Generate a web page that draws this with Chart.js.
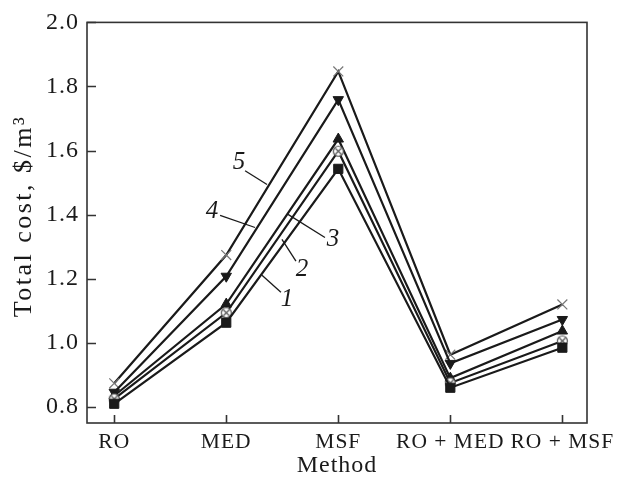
<!DOCTYPE html>
<html>
<head>
<meta charset="utf-8">
<script src="https://cdn.jsdelivr.net/npm/chart.js@4/dist/chart.umd.min.js"></script>
<style>
  html, body { margin: 0; padding: 0; background: #fff; }
</style>
</head>
<body>
<canvas id="chart" width="628" height="487"></canvas>
<script>
const methods = ['RO', 'MED', 'MSF', 'RO + MED', 'RO + MSF'];
const cost1 = [0.81, 1.063, 1.543, 0.86, 0.985];
const cost2 = [0.825, 1.094, 1.598, 0.875, 1.006];
const cost3 = [0.835, 1.121, 1.636, 0.89, 1.037];
const cost4 = [0.846, 1.208, 1.759, 0.936, 1.073];
const cost5 = [0.874, 1.274, 1.847, 0.963, 1.12];
const yTicks = [0.8, 1.0, 1.2, 1.4, 1.6, 1.8, 2.0];
const curveNames = ['1', '2', '3', '4', '5'];
// where each curve number sits and its leader line, in data units
const labelAt = [[1.542, 1.137], [1.676, 1.230], [1.952, 1.323], [0.873, 1.410], [1.114, 1.562]];
const leaderFrom = [[1.488, 1.158], [1.622, 1.255], [1.881, 1.329], [0.945, 1.398], [1.168, 1.537]];
const leaderTo = [[1.319, 1.211], [1.497, 1.323], [1.551, 1.401], [1.257, 1.360], [1.364, 1.494]];
const yTitle = 'Total cost, $/m³';

const serif = "'Liberation Serif', 'Times New Roman', serif";
const ink = '#1a1a1a';

function toPoints(values) {
  return values.map((v, i) => ({ x: i, y: v }));
}

// open circle with a small cross, used for curve 2
function circleCross() {
  const c = document.createElement('canvas');
  c.width = 13; c.height = 13;
  const g = c.getContext('2d');
  g.fillStyle = '#fff';
  g.strokeStyle = '#555';
  g.lineWidth = 1.2;
  g.beginPath(); g.arc(6.5, 6.5, 5, 0, Math.PI * 2); g.fill(); g.stroke();
  g.beginPath();
  g.moveTo(3.5, 3.5); g.lineTo(9.5, 9.5);
  g.moveTo(9.5, 3.5); g.lineTo(3.5, 9.5);
  g.stroke();
  return c;
}

function series(values, extra) {
  return Object.assign({
    data: toPoints(values),
    borderColor: ink,
    borderWidth: 2.2,
    pointBorderColor: ink,
    pointBackgroundColor: ink,
    pointRadius: 6,
    pointBorderWidth: 1,
    tension: 0,
    fill: false
  }, extra);
}

const frame = {
  id: 'frame',
  beforeDraw(chart) {
    // slightly loose tracking, like the printed figure
    chart.ctx.letterSpacing = '1px';
  },
  afterDraw(chart) {
    const { ctx, chartArea: a, scales: { x, y } } = chart;
    ctx.save();
    ctx.strokeStyle = '#333';
    ctx.lineWidth = 1.6;
    ctx.strokeRect(a.left, a.top, a.right - a.left, a.bottom - a.top);
    ctx.beginPath();
    yTicks.forEach((t) => {
      const py = Math.round(y.getPixelForValue(t)) + 0.5;
      ctx.moveTo(a.left, py); ctx.lineTo(a.left + 9, py);
    });
    methods.forEach((m, i) => {
      const px = Math.round(x.getPixelForValue(i)) + 0.5;
      ctx.moveTo(px, a.bottom); ctx.lineTo(px, a.bottom - 8);
    });
    ctx.stroke();

    ctx.strokeStyle = ink;
    ctx.lineWidth = 1.3;
    ctx.fillStyle = ink;
    ctx.letterSpacing = '0px';
    ctx.font = 'italic 25px ' + serif;
    ctx.textAlign = 'center';
    ctx.textBaseline = 'middle';
    curveNames.forEach((name, i) => {
      ctx.beginPath();
      ctx.moveTo(x.getPixelForValue(leaderFrom[i][0]), y.getPixelForValue(leaderFrom[i][1]));
      ctx.lineTo(x.getPixelForValue(leaderTo[i][0]), y.getPixelForValue(leaderTo[i][1]));
      ctx.stroke();
      ctx.fillText(name, x.getPixelForValue(labelAt[i][0]), y.getPixelForValue(labelAt[i][1]));
    });

    // y axis title
    ctx.font = '26px ' + serif;
    ctx.letterSpacing = '2.5px';
    ctx.translate(24, 217);
    ctx.rotate(-Math.PI / 2);
    ctx.fillText(yTitle, 1, 0);
    ctx.restore();
  }
};

new Chart(document.getElementById('chart'), {
  type: 'line',
  data: {
    datasets: [
      series(cost1, { pointStyle: 'rect', pointRadius: 6.5 }),
      series(cost2, { pointStyle: circleCross() }),
      series(cost3, { pointStyle: 'triangle', pointRadius: 6 }),
      series(cost4, { pointStyle: 'triangle', pointRotation: 180, pointRadius: 6 }),
      series(cost5, { pointStyle: 'crossRot', pointRadius: 7, pointBorderColor: '#777', pointBorderWidth: 1.2 })
    ]
  },
  options: {
    responsive: false,
    animation: false,
    devicePixelRatio: 1,
    layout: { padding: { top: 20, right: 41, left: 0, bottom: 0 } },
    plugins: { legend: { display: false }, tooltip: { enabled: false } },
    scales: {
      x: {
        type: 'linear',
        min: -0.243,
        max: 4.22,
        afterBuildTicks: (s) => { s.ticks = methods.map((m, i) => ({ value: i })); },
        afterFit: (s) => { s.height = 64; },
        grid: { display: false, drawTicks: false },
        border: { display: false },
        ticks: {
          padding: 6,
          maxRotation: 0,
          autoSkip: false,
          color: ink,
          font: { family: serif, size: 21.5 },
          callback: (v) => methods[v]
        },
        title: {
          display: true,
          text: 'Method',
          color: ink,
          font: { family: serif, size: 24 },
          padding: { top: 0, bottom: 7 }
        }
      },
      y: {
        min: 0.75,
        max: 2.0,
        afterBuildTicks: (s) => { s.ticks = yTicks.map((t) => ({ value: t })); },
        afterFit: (s) => { s.width = 87; },
        grid: { display: false, drawTicks: false },
        border: { display: false },
        ticks: {
          padding: 8,
          color: ink,
          font: { family: serif, size: 24 },
          callback: (v) => Number(v).toFixed(1)
        },
        title: { display: false }
      }
    }
  },
  plugins: [frame]
});
</script>
</body>
</html>
